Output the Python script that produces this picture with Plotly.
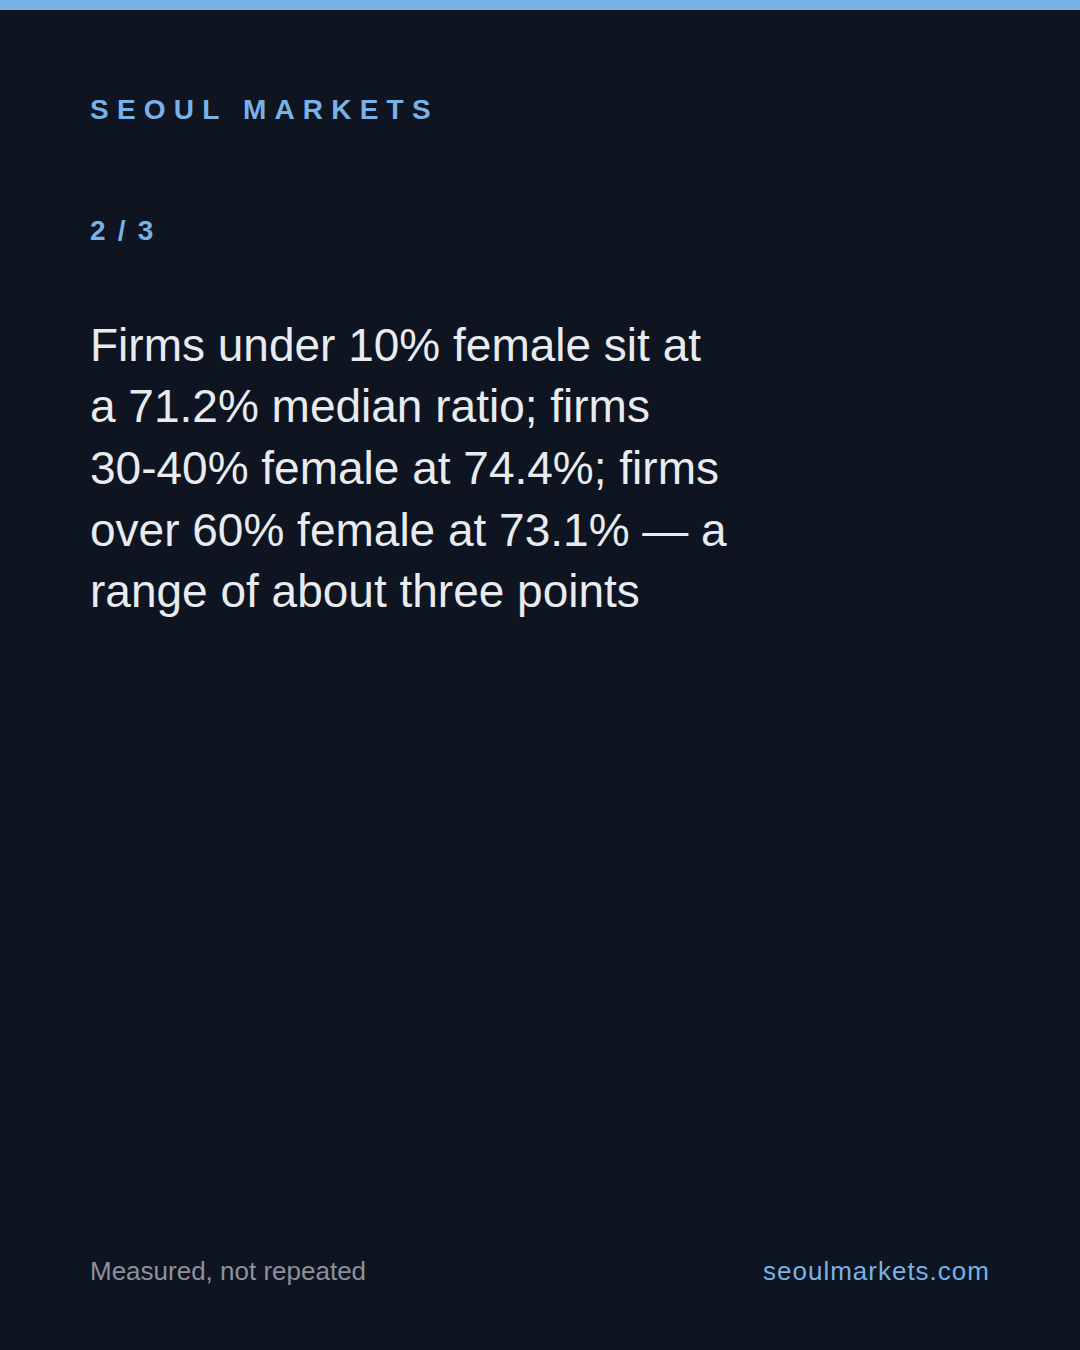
import plotly.graph_objects as go

# ---- content ----
brand_label = "SEOUL MARKETS"
page_label = "2 / 3"
body_lines = [
    "Firms under 10% female sit at",
    "a 71.2% median ratio; firms",
    "30-40% female at 74.4%; firms",
    "over 60% female at 73.1% \u2014 a",
    "range of about three points",
]
footer_left = "Measured, not repeated"
footer_right = "seoulmarkets.com"

# ---- style ----
W, H = 1080, 1350
BG = "#0e1420"
ACCENT = "#78b2e6"
BODY = "#e8ebef"
MUTED = "#8b929c"
FONT = "Liberation Sans, Arial, Helvetica, sans-serif"

ASC = 0.3465  # baseline offset from text-box centre, in em
PAD = 2       # annotation border + pad offset


def yc(baseline_px, size):
    """paper y for a text box whose baseline sits at baseline_px from top"""
    return 1 - (baseline_px - ASC * size) / H


annotations = []


def add(text, x_px, baseline_px, size, color, xanchor="left", bold=False):
    dx = -PAD if xanchor == "left" else PAD
    annotations.append(dict(
        text=text, xref="paper", yref="paper",
        x=(x_px + dx) / W, y=yc(baseline_px, size),
        xanchor=xanchor, yanchor="middle", align=xanchor,
        showarrow=False,
        font=dict(family=FONT, size=size, color=color,
                  weight="bold" if bold else "normal"),
    ))


add(brand_label, 90, 119.5, 28, ACCENT, bold=True)
add(page_label, 90, 240.5, 28, ACCENT, bold=True)

base0, step = 360.7, 61.65
for i, line in enumerate(body_lines):
    add(line, 90, base0 + i * step, 46, BODY)

add(footer_left, 90, 1280, 26, MUTED)
add(footer_right, 990, 1280, 26, ACCENT, xanchor="right")

fig = go.Figure()
fig.update_layout(
    width=W, height=H,
    margin=dict(l=0, r=0, t=0, b=0),
    paper_bgcolor=BG, plot_bgcolor=BG,
    xaxis=dict(visible=False, range=[0, 1], fixedrange=True),
    yaxis=dict(visible=False, range=[0, 1], fixedrange=True),
    annotations=annotations,
    shapes=[dict(type="rect", xref="paper", yref="paper",
                 x0=0, x1=1, y0=1 - 10 / H, y1=1,
                 fillcolor=ACCENT, line=dict(width=0), layer="above")],
    showlegend=False,
)

post = """
document.body.style.margin = '0';
document.body.style.padding = '0';
document.body.style.background = '%s';
var gd = document.getElementById('{plot_id}');
var sp = {"SEOUL MARKETS": "8.2px", "2 / 3": "2.2px", "seoulmarkets.com": "1px"};
gd.querySelectorAll('text.annotation-text').forEach(function(t){
  var s = sp[t.textContent];
  if (s) { t.style.letterSpacing = s; }
});
""" % BG

fig.write_html("out.html", config={"displayModeBar": False, "staticPlot": True},
               post_script=post)
